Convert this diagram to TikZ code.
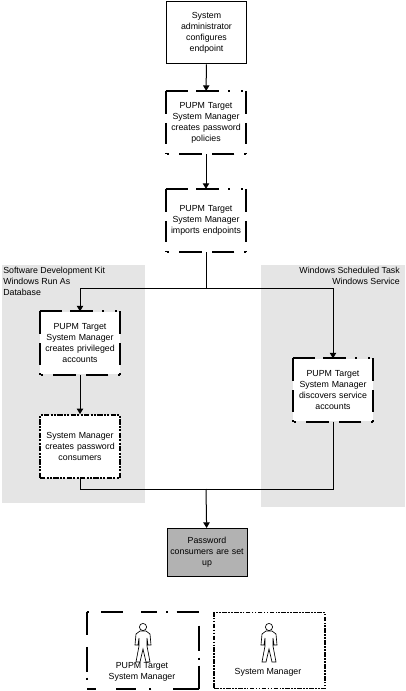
\documentclass[tikz,border=0pt]{standalone}
\usepackage{fontspec}
\setmainfont{Liberation Sans}
\usetikzlibrary{arrows.meta,positioning}

\begin{document}
\begin{tikzpicture}[x=0.75pt,y=-0.75pt,font=\fontsize{6.6}{8.3}\selectfont,>={Triangle[length=4.2pt,width=4.8pt]},
  base/.style={minimum width=60pt,align=center,text width=60pt,inner sep=0pt},
  plain/.style={base,draw,line width=0.75pt},
  ruled/.style n args={4}{append after command={
    (\tikzlastnode.north west) edge[line width=1.5pt,dash pattern=#1] (\tikzlastnode.north east)
    (\tikzlastnode.north east) edge[line width=1.5pt,dash pattern=#2] (\tikzlastnode.south east)
    (\tikzlastnode.south east) edge[line width=1.5pt,dash pattern=#3] (\tikzlastnode.south west)
    (\tikzlastnode.north west) edge[line width=1.5pt,dash pattern=#4] (\tikzlastnode.south west)}},
  target/.style={base,ruled={on 17pt off 6pt on 17pt off 7pt on 1.5pt off 8pt on 1.5pt off 9pt}%
    {on 17pt off 7pt on 16pt off 6.5pt on 1.5pt off 9pt}%
    {on 1.5pt off 7.5pt on 17pt off 7.5pt on 17pt off 7.5pt on 1.5pt off 9pt}%
    {on 17pt off 7pt on 16pt off 6.5pt on 1.5pt off 9pt}},
  keytarget/.style={base,minimum width=84pt,text width=80pt,ruled={on 1.5pt off 9.5pt on 16pt off 14pt on 12pt off 6.5pt on 1.5pt off 6.5pt on 17pt off 9pt}%
    {on 0pt off 10pt on 19pt off 5pt on 1.5pt off 4.5pt on 19.5pt off 9pt}%
    {on 20pt off 16pt on 1.5pt off 10pt on 15pt off 15pt on 10pt off 9pt}%
    {on 17pt off 9pt on 19pt off 4pt on 1.5pt off 9pt}},
  manager/.style={base,draw,line width=1.5pt,dash pattern=on 4pt off 1pt on 1.5pt off 1pt on 1.5pt off 1pt},
  keymanager/.style={base,draw,line width=1.1pt,minimum width=83pt,text width=80pt,dash pattern=on 3.5pt off 1pt on 1.2pt off 1pt on 1.2pt off 1pt},
  panel/.style={fill=black!10,draw=none},
  conn/.style={line width=0.75pt},
  actor/.pic={
    \draw[line width=0.5pt,fill=white] (0,-13) circle (3.6);
    \draw[line width=0.5pt,fill=white] (-3,-9) -- (3,-9) -- (7,-6) -- (8,5) -- (5,5) -- (4,-2) -- (4,6) -- (7,22) -- (3,22)
      -- (0,9) -- (-3,22) -- (-7,22) -- (-4,6) -- (-4,-2) -- (-5,5) -- (-8,5) -- (-7,-6) -- cycle;
  }]
  \useasboundingbox (0,0) rectangle (405,691);
  % shaded groups
  \fill[panel] (2,265) rectangle (145,503);
  \fill[panel] (261,265) rectangle (405,507);
  \node[anchor=north west,inner sep=0pt,align=left] (kit) at (3,267) {Software Development Kit\\Windows Run As\\Database};
  \node[anchor=north east,inner sep=0pt,align=right] (task) at (400,267) {Windows Scheduled Task\\Windows Service};
  % flow
  \node[plain,minimum height=47pt] (config) at (206.5,32.5) {System\\administrator\\configures\\endpoint};
  \node[target,minimum height=47pt] (policy) at (206,122.5) {PUPM Target\\System Manager\\creates password\\policies};
  \node[target,minimum height=47pt] (import) at (206,220.5) {PUPM Target\\System Manager\\imports endpoints};
  \node[target,fill=white,minimum height=47pt] (priv) at (80,343) {PUPM Target\\System Manager\\creates privileged\\accounts};
  \node[manager,fill=white,minimum height=47pt] (cons) at (80,446.5) {System Manager\\creates password\\consumers};
  \node[target,fill=white,minimum height=47pt] (svc) at (333,390) {PUPM Target\\System Manager\\discovers service\\accounts};
  \node[plain,fill=black!30,minimum height=36pt] (done) at (207,552.5) {Password\\consumers are set\\up};
  \coordinate (split) at (206,288);
  \coordinate (merge) at (206,489);
  \draw[->,conn] (config) -- (policy);
  \draw[->,conn] (policy) -- (import);
  \draw[conn] (import) -- (split);
  \draw[->,conn] (split) -| (priv);
  \draw[->,conn] (split) -| (svc);
  \draw[->,conn] (priv) -- (cons);
  \draw[conn] (cons) |- (merge);
  \draw[conn] (svc) |- (merge);
  \draw[->,conn] (merge) -- (done);
  % legend
  \node[keytarget,minimum height=57pt] (keya) at (143,650.5) {};
  \node[keymanager,minimum height=57pt] (keyb) at (269.5,650.5) {};
  \pic at (143,640) {actor};
  \pic at (269,640) {actor};
  \node[align=center,inner sep=0pt] (namea) at (142,672) {PUPM Target\\System Manager};
  \node[inner sep=0pt] (nameb) at (268,672) {System Manager};
\end{tikzpicture}
\end{document}
